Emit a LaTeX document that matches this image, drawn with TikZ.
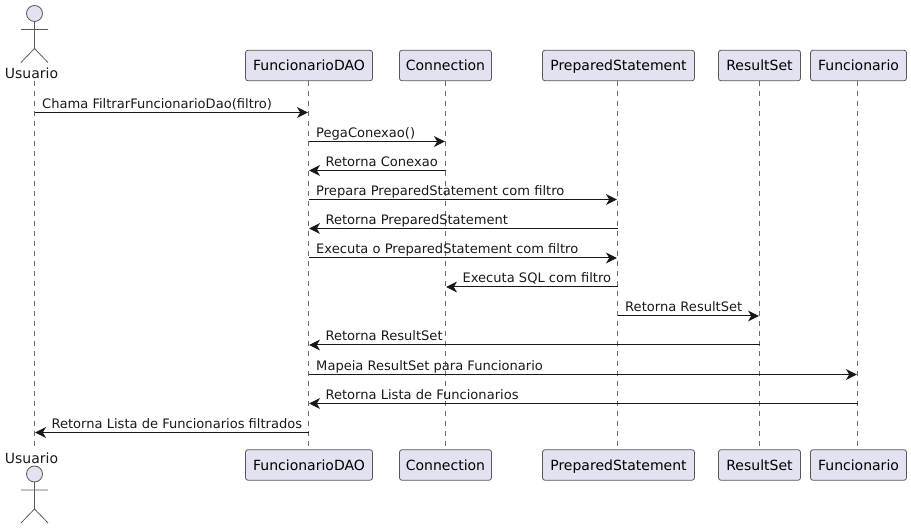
\documentclass[tikz,border=0pt]{standalone}
\usepackage{fontspec}
\setmainfont{DejaVu Sans}
\usetikzlibrary{arrows.meta}
\definecolor{pfill}{HTML}{E2E2F0}
\definecolor{pline}{HTML}{595959}
\definecolor{lline}{HTML}{6B6B6B}
\definecolor{msgc}{HTML}{181818}
\newcommand{\actorfig}[2]{%
  \draw[actorline,fill=pfill] (#1,#2) circle (8);
  \draw[actorline] (#1,#2+8) -- ++(0,27) (#1-13.5,#2+16) -- ++(27,0)
    (#1,#2+35) -- ++(-13.5,14) (#1,#2+35) -- ++(13.5,14);
}
\tikzset{
  x=0.75pt,y=-0.75pt,
  partbox/.style={draw=pline,fill=pfill,rounded corners=1.9pt,line width=0.6pt,minimum height=22.9pt,inner sep=0pt,text height=7.6pt,text depth=0pt,font=\fontsize{10.5}{12}\selectfont,anchor=center},
  actorline/.style={draw=pline,line width=0.6pt},
  actorlabel/.style={font=\fontsize{10.5}{12}\selectfont,inner sep=0pt,text=black!90},
  lifeline/.style={draw=lline,line width=0.55pt,dash pattern=on 3.75pt off 3.75pt},
  msg/.style={draw=msgc,line width=0.75pt,-{Stealth[length=8.2pt,width=8pt,inset=2.4pt]},shorten >=0.4pt},
  msglabel/.style={font=\fontsize{9.8}{12}\selectfont,inner sep=0pt,text=black!90,anchor=base west},
}
\begin{document}
\begin{tikzpicture}
\useasboundingbox (0,0) rectangle (911,530);
\node[actorlabel] (uT) at (31.5,73) {Usuario};
\node[actorlabel] (uB) at (31.5,458) {Usuario};
\coordinate (uTop) at (34.5,81);
\coordinate (uBot) at (34.5,447);
\foreach \n/\x/\w/\t in {d/309/127/FuncionarioDAO,c/445.5/92/Connection,p/618.5/152/PreparedStatement,r/759.5/82/ResultSet,f/858.5/96/Funcionario}{
  \node[partbox,minimum width=\w*0.75pt] (\n T) at (\x,65.5) {\t};
  \node[partbox,minimum width=\w*0.75pt] (\n B) at (\x,465) {\t};
}
\foreach \n/\x in {d/308.5,c/445.5,p/617.5,r/759.5,f/857.5}{
  \coordinate (\n 1) at (\x,81);
  \coordinate (\n 2) at (\x,449);
  \draw[lifeline] (\n 1) -- (\n 2);
}
\draw[lifeline] (uTop) -- (uBot);
\actorfig{34.5}{13.5}
\actorfig{34.5}{474}
\coordinate (u) at (34.5,0); \coordinate (d) at (308.5,0); \coordinate (c) at (445.5,0);
\coordinate (p) at (617.5,0); \coordinate (r) at (759.5,0); \coordinate (f) at (857.5,0);
\foreach \a/\b/\y in {
  u/d/112.5,
  d/c/141.5,
  c/d/170.5,
  d/p/199.5,
  p/d/228.5,
  d/p/258,
  p/c/287,
  p/r/316,
  r/d/345,
  d/f/374.5,
  f/d/403.5,
  d/u/432.5}{
  \draw[msg] (\a |- 0,\y) -- (\b |- 0,\y);
}
\foreach \a/\off/\y/\t in {
  u/5.6/112.5/{Chama FiltrarFuncionarioDao(filtro)},
  d/5.6/141.5/{PegaConexao()},
  d/12.6/170.5/{Retorna Conexao},
  d/5.6/199.5/{Prepara PreparedStatement com filtro},
  d/12.6/228.5/{Retorna PreparedStatement},
  d/5.6/258/{Executa o PreparedStatement com filtro},
  c/12.6/287/{Executa SQL com filtro},
  p/5.6/316/{Retorna ResultSet},
  d/12.6/345/{Retorna ResultSet},
  d/5.6/374.5/{Mapeia ResultSet para Funcionario},
  d/12.6/403.5/{Retorna Lista de Funcionarios},
  u/12.6/432.5/{Retorna Lista de Funcionarios filtrados}}{
  \node[msglabel] at ([xshift=\off pt]\a |- 0,\y-4) {\t};
}
\end{tikzpicture}
\end{document}
